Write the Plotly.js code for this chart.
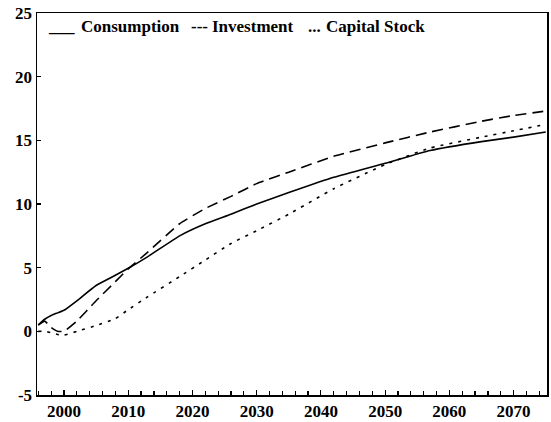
<!DOCTYPE html>
<html>
<head>
<meta charset="utf-8">
<script src="https://cdn.plot.ly/plotly-3.0.1.min.js"></script>
<style>html,body{margin:0;padding:0;background:#fff;}#chart{width:551px;height:422px;}</style>
</head>
<body>
<div id="chart"></div>
<script>
const years = [1996,1997,1998,1999,2000,2002,2005,2008,2010,2013,2018,2022,2026,2030,2035,2042,2050,2057,2065,2070,2075];
const consumption = [0.5,0.95,1.25,1.45,1.65,2.4,3.6,4.4,4.95,5.85,7.5,8.45,9.2,10.0,10.9,12.1,13.2,14.2,14.9,15.25,15.65];
const investment = [0.5,0.8,0.3,0.0,0.0,0.8,2.4,3.9,4.9,6.2,8.45,9.65,10.6,11.6,12.5,13.75,14.8,15.65,16.5,16.95,17.3];
const capitalStock = [0.0,0.0,-0.1,-0.25,-0.3,0.0,0.45,1.0,1.7,2.7,4.3,5.6,6.9,7.9,9.2,11.2,13.1,14.4,15.25,15.75,16.25];
const xTicks = [2000,2010,2020,2030,2040,2050,2060,2070];
const yTicks = [-5,0,5,10,15,20,25];
const legendParts = ["___", "Consumption", "---", "Investment", "...", "Capital Stock"];

const serif = "Liberation Serif, DejaVu Serif";
const traces = [
  {x: years, y: consumption, mode: 'lines', line: {color: '#000', width: 1.6, shape: 'spline', smoothing: 0.4}},
  {x: years, y: investment, mode: 'lines', line: {color: '#000', width: 1.6, dash: '11px,6px', shape: 'spline', smoothing: 0.4}},
  {x: years, y: capitalStock, mode: 'lines', line: {color: '#000', width: 1.6, dash: '3px,6px', shape: 'spline', smoothing: 0.4}}
];
// legend text pieces laid out along the top of the plot area (paper coordinates)
const legendX = [0.018, 0.083, 0.298, 0.34, 0.528, 0.563];
const annotations = legendParts.map((t, i) => ({
  xref: 'paper', yref: 'paper', x: legendX[i], y: 0.995, xanchor: 'left', yanchor: 'top',
  text: t, showarrow: false,
  font: {family: serif, size: 17, weight: 'bold', color: '#000'}
}));
const layout = {
  width: 551, height: 422,
  margin: {l: 37, r: 4, t: 13, b: 27},
  paper_bgcolor: '#fff', plot_bgcolor: '#fff',
  showlegend: false,
  font: {family: serif, color: '#000', size: 16},
  xaxis: {
    range: [1995.8, 2075.2], tickvals: xTicks, ticktext: xTicks.map(String),
    showgrid: false, zeroline: false, showline: true, mirror: true, linecolor: '#000', linewidth: 1.5,
    ticks: 'inside', ticklen: 5, tickcolor: '#000', tickwidth: 1.2,
    minor: {dtick: 2, tick0: 2000, ticks: 'inside', ticklen: 4, tickcolor: '#000', tickwidth: 1.2},
    tickfont: {family: serif, size: 17, weight: 'bold'}
  },
  yaxis: {
    range: [-5, 25], tickvals: yTicks, ticktext: yTicks.map(String),
    showgrid: false, zeroline: false, showline: true, mirror: true, linecolor: '#000', linewidth: 1.5,
    ticks: 'inside', ticklen: 4, tickcolor: '#000', tickwidth: 1.2,
    tickfont: {family: serif, size: 17, weight: 'bold'}
  },
  annotations: annotations
};
Plotly.newPlot('chart', traces, layout, {staticPlot: true, displayModeBar: false});
</script>
</body>
</html>
